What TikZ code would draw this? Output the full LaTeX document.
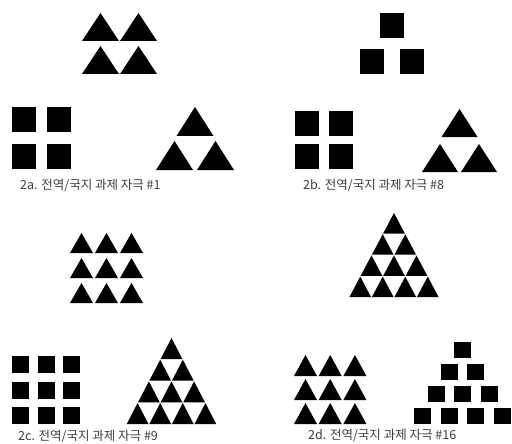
\documentclass[tikz,border=0pt]{standalone}
\usepackage{fontspec}
\newfontfamily\krfont{Noto Sans CJK KR}
\definecolor{lblgray}{RGB}{60,60,60}

\begin{document}
\begin{tikzpicture}[x=1pt,y=-1pt,
  stim/.style={fill=black},
  lbl/.style={lblgray, anchor=west, inner sep=0pt,
    font=\krfont\fontsize{12.5}{15}\selectfont}]
\useasboundingbox[fill=white] (0,0) rectangle (512,444);

  % 2a: four triangles, then four squares and three triangles
  \foreach \x in {82,120}
    \foreach \y in {41,74}
      \fill[stim] (\x,\y) -- ++(37,0) -- ++(-18.5,-28) -- cycle;
  \foreach \x in {12,47}
    \foreach \y in {107,144}
      \fill[stim] (\x,\y) rectangle ++(24,25);
  \foreach \x/\y in {176.5/136, 156/170, 197/170}
    \fill[stim] (\x,\y) -- ++(37,0) -- ++(-18.5,-29) -- cycle;
  \node[lbl] (lblA) at (20,185.5) {2a. 전역/국지 과제 자극 \#1};

  % 2b: three squares, then four squares and three triangles
  \foreach \x/\y in {380/13, 360/49, 400/49}
    \fill[stim] (\x,\y) rectangle ++(24,25);
  \foreach \x in {295,329}
    \foreach \y in {111,144}
      \fill[stim] (\x,\y) rectangle ++(24,25);
  \foreach \x/\y in {441.5/137, 422/172, 461/172}
    \fill[stim] (\x,\y) -- ++(36,0) -- ++(-18,-28) -- cycle;
  \node[lbl] (lblB) at (303,185.5) {2b. 전역/국지 과제 자극 \#8};

  % 2c: nine triangles, then nine squares and a triangle of ten
  \foreach \i in {0,1,2}
    \foreach \j in {0,1,2}
      \fill[stim] ({70+25*\i},{253+25*\j}) -- ++(23,0) -- ++(-11.5,-20) -- cycle;
  \foreach \i in {0,1,2}
    \foreach \j in {0,1,2}
      \fill[stim] ({12+25.5*\i},{356+25.5*\j}) rectangle ++(17,17);
  \foreach \r in {0,...,3}
    \foreach \k in {0,...,\r}
      \fill[stim] ({171.5-(\r+1)*11.3+\k*22.6+0.4},{359+\r*21.7})
        -- ++(21.8,0) -- ++(-10.9,-21) -- cycle;
  \node[lbl] (lblC) at (18,436) {2c. 전역/국지 과제 자극 \#9};

  % 2d: a triangle of ten, then nine triangles and a pyramid of squares
  \foreach \r in {0,...,3}
    \foreach \k in {0,...,\r}
      \fill[stim] ({394-(\r+1)*11.25+\k*22.5+0.4},{233.5+\r*21.2})
        -- ++(21.7,0) -- ++(-10.85,-20.5) -- cycle;
  \foreach \i in {0,1,2}
    \foreach \j in {0,1,2}
      \fill[stim] ({294+24.7*\i},{376+24*\j}) -- ++(23,0) -- ++(-11.5,-21) -- cycle;
  \foreach \r in {0,...,3}
    \foreach \k in {0,...,\r}
      \fill[stim] ({462.5+(\k-\r/2)*26.5-8.5},{342+22*\r}) rectangle ++(17,16);
  \node[lbl] (lblD) at (308,435.5) {2d. 전역/국지 과제 자극 \#16};

\end{tikzpicture}
\end{document}
